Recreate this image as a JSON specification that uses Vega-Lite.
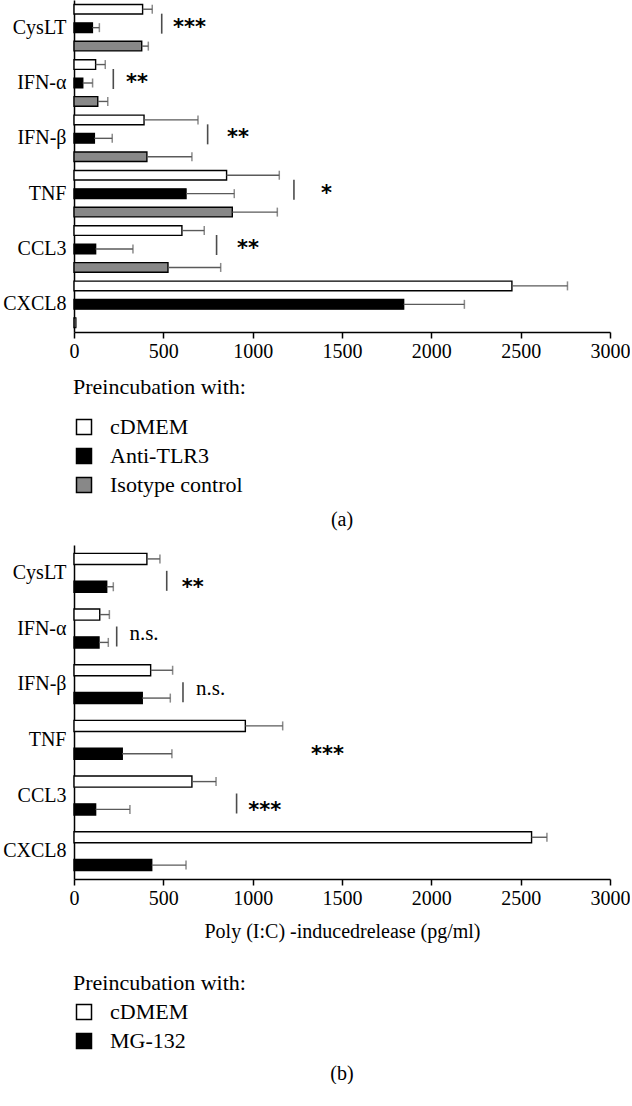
{
  "$schema": "https://vega.github.io/schema/vega-lite/v6.json",
  "padding": {"left": 2, "top": 0, "right": 0, "bottom": 0},
  "background": "white",
  "config": {
    "font": "Liberation Serif",
    "view": {"stroke": null},
    "axis": {"labelFont": "Liberation Serif", "titleFont": "Liberation Serif", "labelColor": "black", "titleColor": "black", "grid": false},
    "legend": {"labelFont": "Liberation Serif", "titleFont": "Liberation Serif", "labelColor": "black", "titleColor": "black"}
  },
  "datasets": {
    "a": [
      {"cyt": "CysLT", "grp": "cDMEM", "v": 384, "err": 438},
      {"cyt": "CysLT", "grp": "Anti-TLR3", "v": 103, "err": 142},
      {"cyt": "CysLT", "grp": "Isotype control", "v": 379, "err": 416},
      {"cyt": "IFN-α", "grp": "cDMEM", "v": 121, "err": 175},
      {"cyt": "IFN-α", "grp": "Anti-TLR3", "v": 49, "err": 104},
      {"cyt": "IFN-α", "grp": "Isotype control", "v": 133, "err": 189},
      {"cyt": "IFN-β", "grp": "cDMEM", "v": 392, "err": 694},
      {"cyt": "IFN-β", "grp": "Anti-TLR3", "v": 114, "err": 214},
      {"cyt": "IFN-β", "grp": "Isotype control", "v": 408, "err": 660},
      {"cyt": "TNF", "grp": "cDMEM", "v": 854, "err": 1149},
      {"cyt": "TNF", "grp": "Anti-TLR3", "v": 627, "err": 897},
      {"cyt": "TNF", "grp": "Isotype control", "v": 886, "err": 1138},
      {"cyt": "CCL3", "grp": "cDMEM", "v": 604, "err": 729},
      {"cyt": "CCL3", "grp": "Anti-TLR3", "v": 121, "err": 330},
      {"cyt": "CCL3", "grp": "Isotype control", "v": 526, "err": 821},
      {"cyt": "CXCL8", "grp": "cDMEM", "v": 2451, "err": 2762},
      {"cyt": "CXCL8", "grp": "Anti-TLR3", "v": 1845, "err": 2185},
      {"cyt": "CXCL8", "grp": "Isotype control", "v": 10, "err": 10}
    ],
    "b": [
      {"cyt": "CysLT", "grp": "cDMEM", "v": 408, "err": 481},
      {"cyt": "CysLT", "grp": "MG-132", "v": 183, "err": 220},
      {"cyt": "IFN-α", "grp": "cDMEM", "v": 144, "err": 198},
      {"cyt": "IFN-α", "grp": "MG-132", "v": 140, "err": 192},
      {"cyt": "IFN-β", "grp": "cDMEM", "v": 429, "err": 552},
      {"cyt": "IFN-β", "grp": "MG-132", "v": 382, "err": 539},
      {"cyt": "TNF", "grp": "cDMEM", "v": 959, "err": 1168},
      {"cyt": "TNF", "grp": "MG-132", "v": 270, "err": 548},
      {"cyt": "CCL3", "grp": "cDMEM", "v": 660, "err": 795},
      {"cyt": "CCL3", "grp": "MG-132", "v": 121, "err": 313},
      {"cyt": "CXCL8", "grp": "cDMEM", "v": 2561, "err": 2647},
      {"cyt": "CXCL8", "grp": "MG-132", "v": 435, "err": 627}
    ],
    "sigAline": [
      {"cyt": "CysLT", "x": 491},
      {"cyt": "IFN-α", "x": 220},
      {"cyt": "IFN-β", "x": 748},
      {"cyt": "TNF", "x": 1231},
      {"cyt": "CCL3", "x": 798}
    ],
    "sigAtext": [
      {"cyt": "CysLT", "x": 554, "label": "***"},
      {"cyt": "IFN-α", "x": 291, "label": "**"},
      {"cyt": "IFN-β", "x": 856, "label": "**"},
      {"cyt": "TNF", "x": 1382, "label": "*"},
      {"cyt": "CCL3", "x": 912, "label": "**"}
    ],
    "sigBline": [
      {"cyt": "CysLT", "x": 519},
      {"cyt": "IFN-α", "x": 239},
      {"cyt": "IFN-β", "x": 610},
      {"cyt": "CCL3", "x": 910}
    ],
    "sigBstar": [
      {"cyt": "CysLT", "x": 603, "label": "**"},
      {"cyt": "TNF", "x": 1326, "label": "***"},
      {"cyt": "CCL3", "x": 975, "label": "***"}
    ],
    "sigBns": [
      {"cyt": "IFN-α", "x": 310, "label": "n.s."},
      {"cyt": "IFN-β", "x": 683, "label": "n.s."}
    ]
  },
  "spacing": 15,
  "resolve": {
    "scale": {"x": "independent", "y": "independent", "yOffset": "independent", "fill": "independent"},
    "legend": {"fill": "independent"}
  },
  "vconcat": [
    {
      "width": 536,
      "height": 332,
      "title": {"text": "(a)", "orient": "bottom", "fontSize": 20, "fontWeight": "normal", "font": "Liberation Serif", "color": "black", "offset": 14},
      "layer": [
        {
          "data": {"name": "a"},
          "mark": {"type": "bar", "stroke": "black", "strokeWidth": 1.4},
          "encoding": {
            "y": {"field": "cyt", "type": "nominal", "sort": ["CysLT", "IFN-α", "IFN-β", "TNF", "CCL3", "CXCL8"], "scale": {"paddingInner": 0, "paddingOuter": 0},
              "axis": {"title": null, "ticks": false, "domainColor": "black", "domainWidth": 1.5, "labelFontSize": 20, "labelPadding": 8}},
            "yOffset": {"field": "grp", "type": "nominal", "sort": ["cDMEM", "Anti-TLR3", "Isotype control"], "scale": {"paddingInner": 0.48, "paddingOuter": 0.24}},
            "x": {"field": "v", "type": "quantitative", "scale": {"domain": [0, 3000], "nice": false},
              "axis": {"title": null, "format": "d", "values": [0, 500, 1000, 1500, 2000, 2500, 3000], "tickSize": 6, "tickColor": "black", "tickWidth": 1.5, "domainColor": "black", "domainWidth": 1.5, "labelFontSize": 20, "labelPadding": 3, "labelFlush": false}},
            "fill": {"field": "grp", "type": "nominal", "scale": {"domain": ["cDMEM", "Anti-TLR3", "Isotype control"], "range": ["#ffffff", "#000000", "#888888"]},
              "legend": {"title": "Preincubation with:", "orient": "none", "legendX": -1, "legendY": 377, "direction": "vertical", "symbolType": "square", "symbolSize": 225, "symbolStrokeColor": "black", "symbolStrokeWidth": 1.5, "labelFontSize": 22, "titleFontSize": 22, "titleFontWeight": "normal", "titlePadding": 17, "rowPadding": 7, "labelOffset": 15}}
          }
        },
        {
          "data": {"name": "a"},
          "mark": {"type": "rule", "color": "#5a5a5a", "strokeWidth": 1.4},
          "encoding": {
            "y": {"field": "cyt", "type": "nominal", "sort": ["CysLT", "IFN-α", "IFN-β", "TNF", "CCL3", "CXCL8"]},
            "yOffset": {"field": "grp", "type": "nominal", "sort": ["cDMEM", "Anti-TLR3", "Isotype control"]},
            "x": {"field": "v", "type": "quantitative"},
            "x2": {"field": "err"}
          }
        },
        {
          "data": {"name": "a"},
          "mark": {"type": "tick", "color": "#5a5a5a", "thickness": 1.5, "size": 9},
          "encoding": {
            "y": {"field": "cyt", "type": "nominal", "sort": ["CysLT", "IFN-α", "IFN-β", "TNF", "CCL3", "CXCL8"]},
            "yOffset": {"field": "grp", "type": "nominal", "sort": ["cDMEM", "Anti-TLR3", "Isotype control"]},
            "x": {"field": "err", "type": "quantitative"}
          }
        },
        {
          "data": {"name": "sigAline"},
          "mark": {"type": "tick", "color": "black", "thickness": 1.6, "size": 20, "yOffset": -4},
          "encoding": {
            "y": {"field": "cyt", "type": "nominal", "sort": ["CysLT", "IFN-α", "IFN-β", "TNF", "CCL3", "CXCL8"]},
            "x": {"field": "x", "type": "quantitative"}
          }
        },
        {
          "data": {"name": "sigAtext"},
          "mark": {"type": "text", "align": "left", "baseline": "middle", "fontSize": 21, "fontWeight": "bold", "font": "DejaVu Sans", "dy": 0},
          "encoding": {
            "y": {"field": "cyt", "type": "nominal", "sort": ["CysLT", "IFN-α", "IFN-β", "TNF", "CCL3", "CXCL8"]},
            "x": {"field": "x", "type": "quantitative"},
            "text": {"field": "label"}
          }
        }
      ]
    },
    {
      "width": 536,
      "height": 334,
      "title": {"text": "(b)", "orient": "bottom", "fontSize": 20, "fontWeight": "normal", "font": "Liberation Serif", "color": "black", "offset": 12},
      "layer": [
        {
          "data": {"name": "b"},
          "mark": {"type": "bar", "stroke": "black", "strokeWidth": 1.4},
          "encoding": {
            "y": {"field": "cyt", "type": "nominal", "sort": ["CysLT", "IFN-α", "IFN-β", "TNF", "CCL3", "CXCL8"], "scale": {"paddingInner": 0, "paddingOuter": 0},
              "axis": {"title": null, "ticks": false, "domainColor": "black", "domainWidth": 1.5, "labelFontSize": 20, "labelPadding": 8}},
            "yOffset": {"field": "grp", "type": "nominal", "sort": ["cDMEM", "MG-132"], "scale": {"paddingInner": 0.6, "paddingOuter": 0.3}},
            "x": {"field": "v", "type": "quantitative", "scale": {"domain": [0, 3000], "nice": false},
              "axis": {"title": "Poly (I:C) -inducedrelease (pg/ml)", "titleFontSize": 20, "titleFontWeight": "normal", "titlePadding": 13, "format": "d", "values": [0, 500, 1000, 1500, 2000, 2500, 3000], "tickSize": 6, "tickColor": "black", "tickWidth": 1.5, "domainColor": "black", "domainWidth": 1.5, "labelFontSize": 20, "labelPadding": 3, "labelFlush": false}},
            "fill": {"field": "grp", "type": "nominal", "scale": {"domain": ["cDMEM", "MG-132"], "range": ["#ffffff", "#000000"]},
              "legend": {"title": "Preincubation with:", "orient": "none", "legendX": -1, "legendY": 428, "direction": "vertical", "symbolType": "square", "symbolSize": 225, "symbolStrokeColor": "black", "symbolStrokeWidth": 1.5, "labelFontSize": 22, "titleFontSize": 22, "titleFontWeight": "normal", "titlePadding": 6, "rowPadding": 7, "labelOffset": 15}}
          }
        },
        {
          "data": {"name": "b"},
          "mark": {"type": "rule", "color": "#5a5a5a", "strokeWidth": 1.4},
          "encoding": {
            "y": {"field": "cyt", "type": "nominal", "sort": ["CysLT", "IFN-α", "IFN-β", "TNF", "CCL3", "CXCL8"]},
            "yOffset": {"field": "grp", "type": "nominal", "sort": ["cDMEM", "MG-132"]},
            "x": {"field": "v", "type": "quantitative"},
            "x2": {"field": "err"}
          }
        },
        {
          "data": {"name": "b"},
          "mark": {"type": "tick", "color": "#5a5a5a", "thickness": 1.5, "size": 9},
          "encoding": {
            "y": {"field": "cyt", "type": "nominal", "sort": ["CysLT", "IFN-α", "IFN-β", "TNF", "CCL3", "CXCL8"]},
            "yOffset": {"field": "grp", "type": "nominal", "sort": ["cDMEM", "MG-132"]},
            "x": {"field": "err", "type": "quantitative"}
          }
        },
        {
          "data": {"name": "sigBline"},
          "mark": {"type": "tick", "color": "black", "thickness": 1.6, "size": 20, "yOffset": 8},
          "encoding": {
            "y": {"field": "cyt", "type": "nominal", "sort": ["CysLT", "IFN-α", "IFN-β", "TNF", "CCL3", "CXCL8"]},
            "x": {"field": "x", "type": "quantitative"}
          }
        },
        {
          "data": {"name": "sigBstar"},
          "mark": {"type": "text", "align": "left", "baseline": "middle", "fontSize": 21, "fontWeight": "bold", "font": "DejaVu Sans", "dy": 15},
          "encoding": {
            "y": {"field": "cyt", "type": "nominal", "sort": ["CysLT", "IFN-α", "IFN-β", "TNF", "CCL3", "CXCL8"]},
            "x": {"field": "x", "type": "quantitative"},
            "text": {"field": "label"}
          }
        },
        {
          "data": {"name": "sigBns"},
          "mark": {"type": "text", "align": "left", "baseline": "middle", "fontSize": 21, "font": "Liberation Serif", "dy": 5},
          "encoding": {
            "y": {"field": "cyt", "type": "nominal", "sort": ["CysLT", "IFN-α", "IFN-β", "TNF", "CCL3", "CXCL8"]},
            "x": {"field": "x", "type": "quantitative"},
            "text": {"field": "label"}
          }
        }
      ]
    }
  ]
}
